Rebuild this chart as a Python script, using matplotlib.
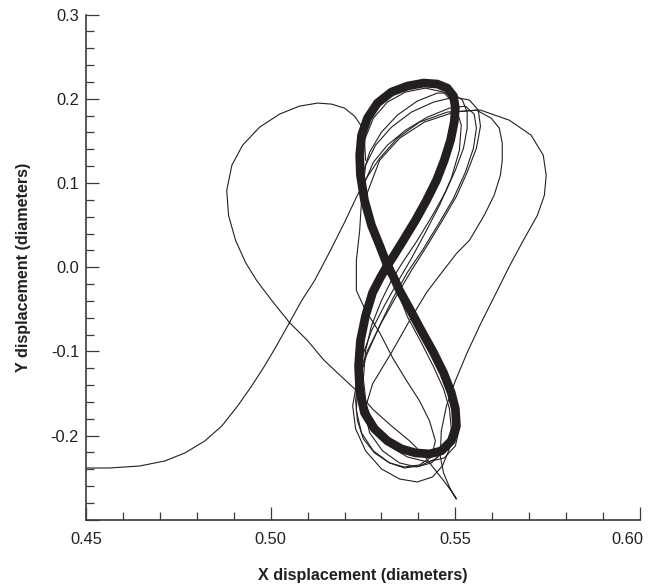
"""Cylinder orbit: X/Y displacement trace with the settled figure-eight."""
import matplotlib

matplotlib.use("Agg")
import matplotlib.pyplot as plt
from matplotlib.ticker import MultipleLocator, FixedLocator
from matplotlib.transforms import ScaledTranslation

plt.rcParams["font.family"] = ["Liberation Sans", "DejaVu Sans"]
plt.rcParams["axes.unicode_minus"] = False

INK = "#231f20"

# settled figure-eight (many overlapping cycles -> drawn as one heavy band)
band_x = [0.5316, 0.5295, 0.5273, 0.5254, 0.5243, 0.5241, 0.5246, 0.5262, 0.5289, 0.5327,
          0.5370, 0.5414, 0.5451, 0.5478, 0.5495, 0.5500, 0.5497, 0.5487, 0.5470, 0.5449,
          0.5422, 0.5392, 0.5359, 0.5332, 0.5316, 0.5297, 0.5276, 0.5257, 0.5243, 0.5238,
          0.5241, 0.5254, 0.5281, 0.5316, 0.5354, 0.5392, 0.5430, 0.5462, 0.5489, 0.5503,
          0.5500, 0.5489, 0.5468, 0.5441, 0.5408, 0.5376, 0.5349, 0.5332, 0.5316]
band_y = [0.0020, 0.0258, 0.0496, 0.0794, 0.1092, 0.1330, 0.1568, 0.1770, 0.1949, 0.2080,
          0.2151, 0.2187, 0.2175, 0.2127, 0.2032, 0.1889, 0.1723, 0.1508, 0.1270, 0.1032,
          0.0794, 0.0556, 0.0318, 0.0127, 0.0020, -0.0123, -0.0301, -0.0575, -0.0873, -0.1170,
          -0.1468, -0.1730, -0.1920, -0.2063, -0.2158, -0.2206, -0.2218, -0.2182, -0.2063, -0.1885,
          -0.1682, -0.1492, -0.1254, -0.1015, -0.0754, -0.0492, -0.0277, -0.0111, 0.0020]

# start-up transient: tail from the left, wide right loop, small lower loop, big left loop
trans_x = [0.4480, 0.4565, 0.4646, 0.4714, 0.4768, 0.4822, 0.4868, 0.4911, 0.4949, 0.4984,
           0.5016, 0.5051, 0.5084, 0.5119, 0.5159, 0.5200, 0.5232, 0.5259, 0.5295, 0.5343,
           0.5403, 0.5478, 0.5568, 0.5646, 0.5705, 0.5738, 0.5746, 0.5741, 0.5722, 0.5684,
           0.5646, 0.5611, 0.5570, 0.5532, 0.5500, 0.5476, 0.5462, 0.5459, 0.5468, 0.5484,
           0.5497, 0.5503, 0.5497, 0.5473, 0.5443, 0.5414, 0.5376, 0.5327, 0.5278, 0.5230,
           0.5186, 0.5143, 0.5100, 0.5051, 0.5003, 0.4962, 0.4932, 0.4905, 0.4886, 0.4881,
           0.4895, 0.4924, 0.4970, 0.5024, 0.5078, 0.5127, 0.5165, 0.5200, 0.5227, 0.5246,
           0.5254, 0.5257]
trans_y = [-0.2385, -0.2385, -0.2361, -0.2301, -0.2206, -0.2063, -0.1885, -0.1646, -0.1408, -0.1170,
           -0.0932, -0.0658, -0.0396, -0.0158, 0.0175, 0.0532, 0.0830, 0.1056, 0.1294, 0.1532,
           0.1723, 0.1842, 0.1866, 0.1746, 0.1568, 0.1330, 0.1092, 0.0854, 0.0615, 0.0318,
           0.0008, -0.0301, -0.0658, -0.1015, -0.1349, -0.1646, -0.1944, -0.2242, -0.2444, -0.2611,
           -0.2718, -0.2754, -0.2706, -0.2563, -0.2396, -0.2230, -0.2063, -0.1885, -0.1694, -0.1456,
           -0.1277, -0.1099, -0.0873, -0.0658, -0.0396, -0.0158, 0.0056, 0.0318, 0.0615, 0.0913,
           0.1211, 0.1449, 0.1663, 0.1818, 0.1913, 0.1949, 0.1937, 0.1889, 0.1794, 0.1675,
           0.1508, 0.1270]

# second wide cycle on the right
wide_x = [0.5254, 0.5295, 0.5349, 0.5416, 0.5497, 0.5557, 0.5597, 0.5619, 0.5627, 0.5627,
          0.5622, 0.5605, 0.5578, 0.5538, 0.5503, 0.5457, 0.5422, 0.5376, 0.5327, 0.5276,
          0.5254, 0.5268, 0.5303, 0.5349, 0.5395, 0.5435, 0.5470, 0.5497, 0.5505]
wide_y = [0.0794, 0.1270, 0.1532, 0.1723, 0.1842, 0.1866, 0.1770, 0.1651, 0.1473, 0.1270,
          0.1092, 0.0854, 0.0615, 0.0318, 0.0163, -0.0099, -0.0301, -0.0635, -0.1015, -0.1385,
          -0.1706, -0.1968, -0.2182, -0.2325, -0.2373, -0.2325, -0.2182, -0.1944, -0.1706]

# individual cycles that drift off the band
c1_x = [0.5322, 0.5289, 0.5262, 0.5249, 0.5251, 0.5268, 0.5300, 0.5343, 0.5397, 0.5451,
        0.5492, 0.5519, 0.5532, 0.5532, 0.5522, 0.5500, 0.5473, 0.5438, 0.5397, 0.5357,
        0.5327, 0.5300, 0.5273, 0.5257, 0.5251, 0.5259, 0.5284, 0.5322, 0.5370, 0.5424,
        0.5470, 0.5500, 0.5511, 0.5505, 0.5489, 0.5462, 0.5430, 0.5392, 0.5357, 0.5322]
c1_y = [-0.0015, 0.0258, 0.0556, 0.0854, 0.1127, 0.1366, 0.1604, 0.1806, 0.1973, 0.2068,
        0.2068, 0.1985, 0.1842, 0.1651, 0.1413, 0.1151, 0.0889, 0.0615, 0.0318, 0.0056,
        -0.0158, -0.0396, -0.0694, -0.0992, -0.1325, -0.1646, -0.1920, -0.2123, -0.2254, -0.2313,
        -0.2266, -0.2123, -0.1920, -0.1682, -0.1444, -0.1170, -0.0897, -0.0611, -0.0337, -0.0015]

c2_x = [0.5327, 0.5295, 0.5268, 0.5251, 0.5257, 0.5278, 0.5316, 0.5365, 0.5424, 0.5484,
        0.5527, 0.5551, 0.5557, 0.5549, 0.5527, 0.5495, 0.5457, 0.5414, 0.5370, 0.5332,
        0.5295, 0.5259, 0.5235, 0.5232, 0.5246, 0.5278, 0.5322, 0.5362, 0.5403, 0.5446,
        0.5478, 0.5497, 0.5503, 0.5489, 0.5465, 0.5432, 0.5397, 0.5362, 0.5327]
c2_y = [-0.0015, 0.0223, 0.0496, 0.0794, 0.1032, 0.1246, 0.1449, 0.1627, 0.1782, 0.1889,
        0.1913, 0.1818, 0.1651, 0.1413, 0.1127, 0.0818, 0.0532, 0.0223, -0.0063, -0.0361,
        -0.0694, -0.1051, -0.1408, -0.1706, -0.1968, -0.2182, -0.2325, -0.2385, -0.2361, -0.2277,
        -0.2123, -0.1920, -0.1706, -0.1468, -0.1230, -0.0944, -0.0658, -0.0373, -0.0015]

c3_x = [0.5332, 0.5305, 0.5281, 0.5262, 0.5251, 0.5257, 0.5284, 0.5327, 0.5381, 0.5441,
        0.5497, 0.5538, 0.5562, 0.5568, 0.5557, 0.5532, 0.5503, 0.5465, 0.5424, 0.5381,
        0.5341, 0.5300, 0.5262, 0.5235, 0.5222, 0.5230, 0.5257, 0.5300, 0.5349, 0.5397,
        0.5438, 0.5465, 0.5484, 0.5489, 0.5484, 0.5468, 0.5441, 0.5408, 0.5370, 0.5349,
        0.5332]
c3_y = [-0.0015, 0.0223, 0.0461, 0.0735, 0.0973, 0.1211, 0.1449, 0.1663, 0.1842, 0.1961,
        0.2020, 0.1985, 0.1866, 0.1675, 0.1413, 0.1127, 0.0842, 0.0556, 0.0258, -0.0039,
        -0.0337, -0.0658, -0.0992, -0.1325, -0.1646, -0.1920, -0.2182, -0.2396, -0.2516, -0.2551,
        -0.2492, -0.2361, -0.2158, -0.1920, -0.1682, -0.1444, -0.1182, -0.0897, -0.0587, -0.0349,
        -0.0015]

c4_x = [0.5246, 0.5241, 0.5232, 0.5232, 0.5257, 0.5295, 0.5330, 0.5368, 0.5403, 0.5430,
        0.5446, 0.5435, 0.5403, 0.5362, 0.5322, 0.5281, 0.5251, 0.5235, 0.5230, 0.5235,
        0.5249, 0.5273, 0.5308, 0.5343, 0.5381, 0.5419, 0.5457, 0.5489, 0.5511, 0.5516,
        0.5500, 0.5468, 0.5419, 0.5365, 0.5316, 0.5278, 0.5254, 0.5243, 0.5246]
c4_y = [0.0794, 0.0437, 0.0080, -0.0277, -0.0516, -0.0777, -0.1075, -0.1349, -0.1587, -0.1825,
        -0.2063, -0.2254, -0.2349, -0.2373, -0.2325, -0.2206, -0.2039, -0.1825, -0.1587, -0.1325,
        -0.1051, -0.0754, -0.0456, -0.0182, 0.0104, 0.0413, 0.0735, 0.1056, 0.1389, 0.1687,
        0.1925, 0.2080, 0.2127, 0.2080, 0.1961, 0.1770, 0.1508, 0.1211, 0.0794]

x_ticks = [0.45, 0.50, 0.55, 0.60]
y_ticks = [-0.3, -0.2, -0.1, 0.0, 0.1, 0.2, 0.3]
y_tick_labels = ["", "-0.2", "-0.1", "0.0", "0.1", "0.2", "0.3"]
x_tick_labels = ["0.45", "0.50", "0.55", "0.60"]


def main():
    fig = plt.figure(figsize=(6.48, 5.84), dpi=100)
    ax = fig.add_axes([0.1327, 0.110, 0.855, 0.865])

    thin = dict(color=INK, lw=0.8, solid_joinstyle="round")
    for xs, ys in [(trans_x, trans_y), (wide_x, wide_y), (c1_x, c1_y),
                   (c2_x, c2_y), (c3_x, c3_y), (c4_x, c4_y)]:
        ax.plot(xs, ys, **thin)
    ax.plot(band_x, band_y, color=INK, lw=6.3, solid_joinstyle="round",
            solid_capstyle="round")

    ax.set_xlim(0.45, 0.60)
    ax.set_ylim(-0.3, 0.3)

    for side in ("top", "right"):
        ax.spines[side].set_visible(False)
    for side in ("left", "bottom"):
        ax.spines[side].set_linewidth(1.2)
        ax.spines[side].set_color("#3a3a3a")

    ax.xaxis.set_major_locator(FixedLocator(x_ticks))
    ax.set_xticklabels(x_tick_labels)
    ax.yaxis.set_major_locator(FixedLocator(y_ticks))
    ax.set_yticklabels(y_tick_labels)
    ax.xaxis.set_minor_locator(MultipleLocator(0.01))
    ax.yaxis.set_minor_locator(MultipleLocator(0.02))
    ax.tick_params(which="major", direction="in", length=9.5, width=0.9,
                   color="#3a3a3a", labelsize=11.8, labelcolor=INK)
    ax.tick_params(which="minor", direction="in", length=5.5, width=0.9,
                   color="#3a3a3a")
    ax.tick_params(axis="x", which="major", pad=8.5)
    ax.tick_params(axis="y", which="major", pad=5)

    # the right-most label is pulled in so it stays on the page
    last = ax.get_xticklabels()[-1]
    last.set_transform(last.get_transform()
                       + ScaledTranslation(-9 / 72, 0, fig.dpi_scale_trans))

    ax.set_xlabel("X displacement (diameters)", fontsize=11.6,
                  fontweight="bold", color=INK, labelpad=15.5)
    ax.set_ylabel("Y displacement (diameters)", fontsize=11.6,
                  fontweight="bold", color=INK, labelpad=14)

    fig.savefig("out.png", dpi=100)
    plt.close(fig)


if __name__ == "__main__":
    main()
